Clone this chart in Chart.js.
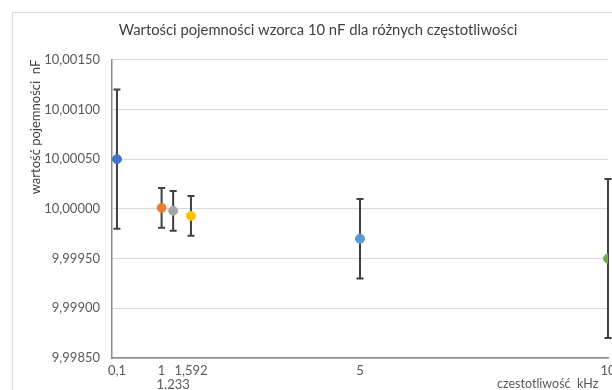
<!DOCTYPE html>
<html>
<head>
<meta charset="utf-8">
<script src="https://cdn.jsdelivr.net/npm/chart.js@4.4.0/dist/chart.umd.min.js"></script>
<style>
html, body { margin: 0; padding: 0; background: #fff; }
#wrap { position: relative; width: 612px; height: 390px; overflow: hidden; }
#frame { position: absolute; left: 12px; top: 12px; width: 700px; height: 500px; border: 1px solid #d9d9d9; }
#chart { position: absolute; left: 0; top: 0; }
#xtitle { position: absolute; left: 497px; top: 376px; font: 12.5px Lato, sans-serif; color: #595959; white-space: pre; }
</style>
</head>
<body>
<div id="wrap">
  <div id="frame"></div>
  <canvas id="chart" width="640" height="390"></canvas>
  <div id="xtitle">czestotliwość  kHz</div>
</div>
<script>
// measured values (frequency in kHz, capacity in nF)
const freqs = [0.1, 1, 1.233, 1.592, 5, 10];
const capacities = [10.0005, 10.00001, 9.99998, 9.99993, 9.9997, 9.9995];
const uncertainties = [0.0007, 0.0002, 0.0002, 0.0002, 0.0004, 0.0008];
const pointColors = ['#4472C4', '#ED7D31', '#A5A5A5', '#FFC000', '#5B9BD5', '#70AD47'];
const xTicks = [0.1, 1, 1.233, 1.592, 5, 10];
const xTickLabels = ['0,1', '1', ['', '1.233'], '1,592', '5', '10'];
const yTicks = [9.9985, 9.999, 9.9995, 10, 10.0005, 10.001, 10.0015];

// error bars drawn under the points
const errorBars = {
    id: 'errorBars',
    beforeDatasetsDraw(chart) {
        const ctx = chart.ctx;
        const x = chart.scales.x;
        const y = chart.scales.y;
        ctx.save();
        ctx.strokeStyle = '#404040';
        ctx.lineWidth = 2;
        freqs.forEach((f, i) => {
            const px = x.getPixelForValue(f);
            const top = y.getPixelForValue(capacities[i] + uncertainties[i]);
            const bot = y.getPixelForValue(capacities[i] - uncertainties[i]);
            ctx.beginPath();
            ctx.moveTo(px, top); ctx.lineTo(px, bot);
            ctx.moveTo(px - 3.5, top); ctx.lineTo(px + 3.5, top);
            ctx.moveTo(px - 3.5, bot); ctx.lineTo(px + 3.5, bot);
            ctx.stroke();
        });
        ctx.restore();
    }
};

const font = { family: 'Lato, sans-serif', size: 13 };

const ctx = document.getElementById('chart').getContext('2d');
const chart = new Chart(ctx, {
    type: 'scatter',
    data: {
        datasets: [{
            data: freqs.map((f, i) => ({ x: f, y: capacities[i] })),
            pointRadius: 4.5,
            pointBackgroundColor: pointColors,
            pointBorderColor: pointColors,
            showLine: false
        }]
    },
    options: {
        responsive: false,
        animation: false,
        layout: { padding: { left: 28, right: 32, top: 12, bottom: 0 } },
        plugins: {
            legend: { display: false },
            tooltip: { enabled: false },
            title: {
                display: true,
                text: 'Wartości pojemności wzorca 10 nF dla różnych częstotliwości',
                color: '#404040',
                font: { family: 'Lato, sans-serif', size: 14.8, weight: 'normal' },
                padding: { top: 9, bottom: 21 }
            }
        },
        scales: {
            x: {
                type: 'linear',
                min: 0,
                max: 10,
                afterBuildTicks: s => { s.ticks = xTicks.map(v => ({ value: v })); },
                ticks: {
                    autoSkip: false,
                    maxRotation: 0,
                    padding: 6,
                    color: '#595959',
                    font: { family: 'Lato, sans-serif', size: 13, lineHeight: 1.05 },
                    callback: (v, i) => xTickLabels[i]
                },
                grid: { drawOnChartArea: false, drawTicks: false },
                border: { color: '#8c8c8c', width: 1.5 },
                afterFit: s => { s.height = 32; }
            },
            y: {
                min: 9.9985,
                max: 10.0015,
                afterBuildTicks: s => { s.ticks = yTicks.map(v => ({ value: v })); },
                ticks: {
                    padding: 12,
                    color: '#595959',
                    font: font,
                    callback: v => v.toFixed(5).replace('.', ',')
                },
                grid: { color: '#d9d9d9', drawTicks: false },
                border: { color: '#8c8c8c', width: 1.5 },
                title: {
                    display: true,
                    text: 'wartość pojemności  nF',
                    align: 'end',
                    color: '#404040',
                    font: font,
                    padding: { top: 0, bottom: 0 }
                },
                afterFit: s => { s.width = 84; }
            }
        }
    },
    plugins: [errorBars]
});
</script>
</body>
</html>
